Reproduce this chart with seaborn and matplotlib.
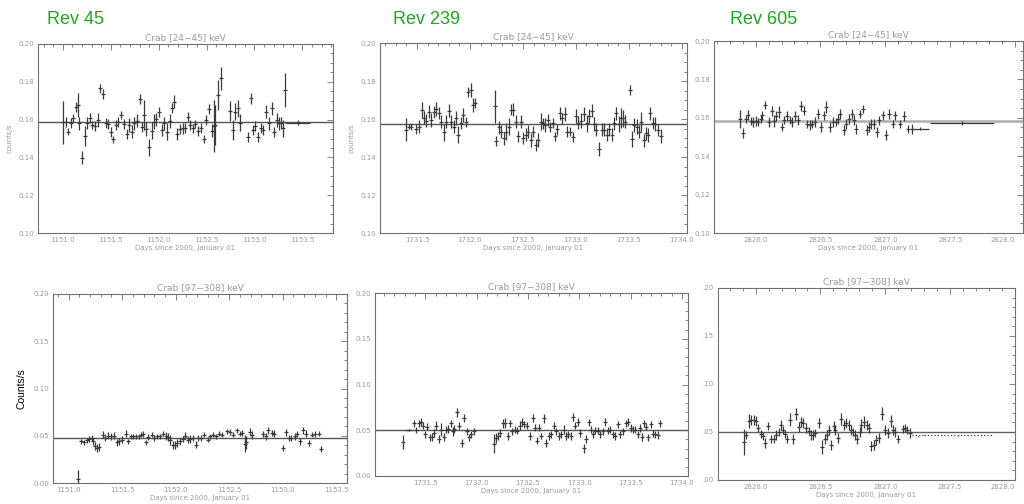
import matplotlib
matplotlib.use("Agg")
import matplotlib.pyplot as plt
from matplotlib.ticker import MultipleLocator, FormatStrFormatter, FuncFormatter
import seaborn as sns
import pandas as pd

# ---------------- data ----------------
rev_labels = ["Rev 45", "Rev 239", "Rev 605"]
title_soft = "Crab [24\u221245] keV"
title_hard = "Crab [97\u2212308] keV"
xlabel_text = "Days since 2000, January 01"

# Rev 45, 24-45 keV
t1 = [1151.003,1151.028,1151.056,1151.080,1151.108,1151.136,1151.153,1151.171,1151.202,1151.230,1151.255,1151.282,1151.307,1151.335,1151.363,1151.387,1151.422,1151.446,1151.474,1151.502,1151.527,1151.554,1151.579,1151.607,1151.638,1151.666,1151.690,1151.718,1151.746,1151.778,1151.802,1151.830,1151.851,1151.872,1151.900,1151.927,1151.952,1151.976,1152.008,1152.032,1152.060,1152.091,1152.116,1152.140,1152.165,1152.196,1152.224,1152.252,1152.276,1152.304,1152.328,1152.356,1152.381,1152.409,1152.440,1152.471,1152.496,1152.524,1152.552,1152.573,1152.593,1152.618,1152.646,1152.740,1152.771,1152.799,1152.824,1152.851,1152.932,1152.960,1152.984,1153.008,1153.036,1153.064,1153.092,1153.123,1153.151,1153.179,1153.204,1153.232,1153.256,1153.280,1153.294,1153.315]
y1 = [0.1586,0.1589,0.1536,0.1584,0.1607,0.1668,0.1677,0.1580,0.1399,0.1513,0.1580,0.1607,0.1571,0.1568,0.1598,0.1765,0.1735,0.1580,0.1577,0.1536,0.1496,0.1571,0.1589,0.1624,0.1575,0.1524,0.1571,0.1536,0.1580,0.1594,0.1707,0.1563,0.1624,0.1550,0.1453,0.1541,0.1589,0.1601,0.1642,0.1545,0.1580,0.1536,0.1593,0.1663,0.1695,0.1524,0.1550,0.1554,0.1557,0.1616,0.1571,0.1554,0.1575,0.1541,0.1557,0.1499,0.1598,0.1654,0.1541,0.1566,0.1571,0.1730,0.1818,0.1647,0.1545,0.1642,0.1660,0.1584,0.1510,0.1713,0.1545,0.1566,0.1510,0.1554,0.1545,0.1642,0.1580,0.1660,0.1536,0.1598,0.1580,0.1584,0.1554,0.1757]
e1 = [0.0115,0.0026,0.0018,0.0026,0.0021,0.0026,0.0062,0.0035,0.0035,0.0053,0.0032,0.0026,0.0021,0.0026,0.0035,0.0026,0.0028,0.0026,0.0026,0.0026,0.0018,0.0026,0.0026,0.0021,0.0026,0.0026,0.0035,0.0035,0.0035,0.0035,0.0026,0.0026,0.0079,0.0035,0.0044,0.0044,0.0039,0.0035,0.0026,0.0032,0.0035,0.0044,0.0035,0.0026,0.0035,0.0030,0.0026,0.0030,0.0026,0.0026,0.0026,0.0023,0.0021,0.0026,0.0026,0.0021,0.0026,0.0026,0.0035,0.0138,0.0106,0.0079,0.0062,0.0053,0.0053,0.0044,0.0044,0.0044,0.0026,0.0030,0.0026,0.0026,0.0026,0.0026,0.0026,0.0035,0.0035,0.0035,0.0026,0.0035,0.0035,0.0032,0.0044,0.0088]
w1_t, w1_y, w1_xe, w1_ye = [1153.45], [0.1584], [0.13], [0.0014]
mean1 = 0.1586

# Rev 239, 24-45 keV
t2 = [1731.399,1731.424,1731.446,1731.494,1731.516,1731.547,1731.566,1731.588,1731.610,1731.635,1731.658,1731.680,1731.705,1731.730,1731.752,1731.777,1731.799,1731.825,1731.847,1731.869,1731.891,1731.913,1731.938,1731.960,1731.985,1732.007,1732.029,1732.051,1732.234,1732.250,1732.272,1732.294,1732.319,1732.338,1732.366,1732.388,1732.407,1732.436,1732.458,1732.480,1732.505,1732.527,1732.549,1732.574,1732.596,1732.622,1732.644,1732.669,1732.691,1732.713,1732.735,1732.757,1732.782,1732.804,1732.826,1732.848,1732.871,1732.896,1732.921,1732.943,1732.974,1733.003,1733.025,1733.050,1733.075,1733.104,1733.126,1733.148,1733.173,1733.195,1733.220,1733.245,1733.267,1733.293,1733.315,1733.337,1733.359,1733.384,1733.406,1733.428,1733.450,1733.466,1733.507,1733.529,1733.554,1733.576,1733.598,1733.620,1733.642,1733.664,1733.683,1733.705,1733.727,1733.750,1733.775,1733.800]
y2 = [0.1543,0.1560,0.1560,0.1546,0.1560,0.1647,0.1607,0.1591,0.1638,0.1595,0.1638,0.1652,0.1630,0.1586,0.1529,0.1586,0.1644,0.1586,0.1560,0.1604,0.1517,0.1577,0.1621,0.1586,0.1743,0.1752,0.1673,0.1685,0.1668,0.1482,0.1557,0.1534,0.1499,0.1534,0.1560,0.1650,0.1650,0.1586,0.1508,0.1586,0.1499,0.1517,0.1534,0.1490,0.1534,0.1464,0.1490,0.1586,0.1577,0.1569,0.1595,0.1560,0.1577,0.1508,0.1546,0.1630,0.1604,0.1626,0.1534,0.1534,0.1504,0.1616,0.1581,0.1591,0.1626,0.1577,0.1616,0.1644,0.1574,0.1543,0.1442,0.1543,0.1543,0.1517,0.1546,0.1517,0.1577,0.1630,0.1574,0.1604,0.1604,0.1586,0.1752,0.1494,0.1569,0.1560,0.1534,0.1586,0.1487,0.1525,0.1517,0.1630,0.1577,0.1574,0.1543,0.1511]
e2 = [0.0061,0.0014,0.0017,0.0026,0.0035,0.0044,0.0035,0.0035,0.0035,0.0035,0.0031,0.0035,0.0031,0.0035,0.0044,0.0035,0.0035,0.0035,0.0035,0.0038,0.0044,0.0031,0.0038,0.0026,0.0026,0.0035,0.0035,0.0026,0.0087,0.0026,0.0035,0.0035,0.0035,0.0044,0.0044,0.0031,0.0035,0.0035,0.0030,0.0035,0.0030,0.0035,0.0035,0.0035,0.0031,0.0030,0.0035,0.0044,0.0030,0.0035,0.0030,0.0026,0.0026,0.0026,0.0030,0.0035,0.0030,0.0035,0.0031,0.0026,0.0026,0.0035,0.0035,0.0038,0.0035,0.0044,0.0035,0.0035,0.0035,0.0035,0.0035,0.0035,0.0035,0.0035,0.0035,0.0035,0.0035,0.0035,0.0044,0.0052,0.0044,0.0035,0.0026,0.0044,0.0035,0.0038,0.0035,0.0052,0.0035,0.0035,0.0038,0.0035,0.0031,0.0035,0.0031,0.0035]
mean2 = 0.1574

# Rev 605, 24-45 keV
t3 = [2825.884,2825.902,2825.923,2825.943,2825.964,2825.979,2826.000,2826.021,2826.039,2826.051,2826.075,2826.103,2826.124,2826.144,2826.160,2826.180,2826.201,2826.219,2826.242,2826.263,2826.283,2826.304,2826.324,2826.347,2826.371,2826.396,2826.417,2826.435,2826.456,2826.479,2826.505,2826.525,2826.546,2826.577,2826.597,2826.618,2826.636,2826.654,2826.680,2826.700,2826.718,2826.741,2826.759,2826.777,2826.808,2826.829,2826.855,2826.875,2826.893,2826.914,2826.932,2826.952,2826.978,2827.004,2827.030,2827.055,2827.076,2827.112,2827.143,2827.176,2827.207]
y3 = [0.1595,0.1521,0.1595,0.1617,0.1581,0.1577,0.1581,0.1577,0.1595,0.1612,0.1669,0.1577,0.1634,0.1581,0.1608,0.1629,0.1552,0.1590,0.1607,0.1590,0.1577,0.1607,0.1586,0.1664,0.1638,0.1569,0.1560,0.1569,0.1577,0.1620,0.1552,0.1612,0.1655,0.1552,0.1577,0.1577,0.1595,0.1620,0.1538,0.1569,0.1595,0.1620,0.1586,0.1543,0.1620,0.1646,0.1538,0.1552,0.1569,0.1569,0.1526,0.1586,0.1612,0.1509,0.1620,0.1569,0.1612,0.1569,0.1607,0.1543,0.1543]
e3 = [0.0048,0.0026,0.0021,0.0026,0.0021,0.0026,0.0026,0.0021,0.0021,0.0026,0.0021,0.0026,0.0026,0.0031,0.0026,0.0031,0.0021,0.0021,0.0026,0.0021,0.0026,0.0026,0.0026,0.0026,0.0026,0.0021,0.0026,0.0021,0.0026,0.0026,0.0026,0.0026,0.0031,0.0026,0.0026,0.0021,0.0026,0.0026,0.0026,0.0026,0.0026,0.0026,0.0026,0.0026,0.0021,0.0021,0.0026,0.0026,0.0026,0.0026,0.0026,0.0021,0.0026,0.0026,0.0026,0.0021,0.0026,0.0021,0.0026,0.0021,0.0026]
w3_t, w3_y, w3_xe, w3_ye = [2827.27, 2827.59], [0.1543, 0.1574], [0.067, 0.25], [0.0009, 0.0009]
mean3 = 0.1581

# Rev 45, 97-308 keV
t4 = [1151.092,1151.114,1151.145,1151.170,1151.195,1151.217,1151.232,1151.251,1151.269,1151.288,1151.319,1151.341,1151.372,1151.397,1151.425,1151.450,1151.475,1151.500,1151.534,1151.559,1151.584,1151.606,1151.631,1151.656,1151.681,1151.699,1151.724,1151.746,1151.777,1151.799,1151.824,1151.855,1151.886,1151.908,1151.927,1151.949,1151.974,1151.995,1152.017,1152.042,1152.067,1152.089,1152.111,1152.136,1152.160,1152.188,1152.213,1152.235,1152.269,1152.300,1152.322,1152.347,1152.379,1152.403,1152.431,1152.478,1152.509,1152.540,1152.572,1152.597,1152.621,1152.643,1152.659,1152.690,1152.715,1152.815,1152.840,1152.867,1152.899,1152.921,1153.002,1153.030,1153.055,1153.080,1153.111,1153.132,1153.164,1153.188,1153.213,1153.241,1153.273,1153.304,1153.335,1153.360]
y4 = [0.0040,0.0441,0.0430,0.0451,0.0465,0.0476,0.0441,0.0388,0.0370,0.0381,0.0511,0.0476,0.0501,0.0494,0.0501,0.0430,0.0441,0.0458,0.0522,0.0441,0.0494,0.0494,0.0494,0.0494,0.0511,0.0518,0.0430,0.0487,0.0511,0.0476,0.0494,0.0494,0.0522,0.0494,0.0487,0.0458,0.0405,0.0398,0.0423,0.0441,0.0465,0.0501,0.0458,0.0465,0.0476,0.0405,0.0476,0.0476,0.0511,0.0458,0.0494,0.0511,0.0494,0.0522,0.0511,0.0546,0.0539,0.0511,0.0557,0.0522,0.0529,0.0416,0.0430,0.0536,0.0511,0.0518,0.0494,0.0557,0.0529,0.0522,0.0370,0.0536,0.0476,0.0476,0.0494,0.0518,0.0441,0.0557,0.0522,0.0423,0.0511,0.0518,0.0522,0.0359]
e4 = [0.0100,0.0028,0.0028,0.0028,0.0028,0.0028,0.0035,0.0042,0.0042,0.0042,0.0035,0.0035,0.0035,0.0035,0.0035,0.0035,0.0035,0.0035,0.0035,0.0028,0.0028,0.0028,0.0028,0.0028,0.0028,0.0028,0.0028,0.0028,0.0028,0.0028,0.0028,0.0028,0.0028,0.0042,0.0042,0.0053,0.0042,0.0042,0.0042,0.0035,0.0035,0.0035,0.0035,0.0042,0.0035,0.0035,0.0035,0.0035,0.0028,0.0028,0.0028,0.0028,0.0028,0.0028,0.0028,0.0028,0.0028,0.0028,0.0028,0.0028,0.0028,0.0088,0.0071,0.0042,0.0042,0.0035,0.0035,0.0035,0.0035,0.0035,0.0035,0.0035,0.0035,0.0035,0.0035,0.0035,0.0035,0.0035,0.0035,0.0035,0.0028,0.0028,0.0028,0.0035]
mean4 = 0.0478

# Rev 239, 97-308 keV
t5 = [1731.282,1731.393,1731.412,1731.435,1731.458,1731.477,1731.500,1731.516,1731.542,1731.565,1731.581,1731.604,1731.636,1731.656,1731.679,1731.698,1731.721,1731.747,1731.769,1731.782,1731.805,1731.831,1731.854,1731.877,1731.903,1731.925,1731.945,1731.971,1732.166,1732.185,1732.208,1732.231,1732.253,1732.276,1732.302,1732.325,1732.347,1732.370,1732.393,1732.419,1732.442,1732.464,1732.487,1732.519,1732.545,1732.565,1732.588,1732.610,1732.630,1732.656,1732.679,1732.705,1732.724,1732.753,1732.776,1732.799,1732.821,1732.847,1732.867,1732.890,1732.916,1732.938,1732.961,1732.984,1733.010,1733.042,1733.065,1733.091,1733.114,1733.133,1733.156,1733.179,1733.205,1733.227,1733.253,1733.276,1733.302,1733.325,1733.347,1733.377,1733.399,1733.425,1733.451,1733.477,1733.503,1733.523,1733.545,1733.568,1733.594,1733.610,1733.633,1733.653,1733.675,1733.695,1733.718,1733.740,1733.763,1733.792]
y5 = [0.0370,0.0574,0.0506,0.0574,0.0592,0.0551,0.0455,0.0540,0.0421,0.0428,0.0472,0.0551,0.0404,0.0506,0.0428,0.0506,0.0516,0.0574,0.0489,0.0516,0.0694,0.0551,0.0360,0.0632,0.0489,0.0421,0.0455,0.0489,0.0353,0.0415,0.0438,0.0472,0.0574,0.0581,0.0438,0.0574,0.0489,0.0506,0.0497,0.0551,0.0592,0.0564,0.0551,0.0438,0.0632,0.0530,0.0387,0.0530,0.0438,0.0632,0.0360,0.0438,0.0455,0.0551,0.0489,0.0438,0.0455,0.0506,0.0438,0.0455,0.0438,0.0643,0.0551,0.0592,0.0472,0.0302,0.0404,0.0585,0.0506,0.0455,0.0497,0.0497,0.0455,0.0489,0.0592,0.0497,0.0506,0.0455,0.0438,0.0564,0.0455,0.0489,0.0574,0.0592,0.0523,0.0506,0.0506,0.0455,0.0523,0.0428,0.0574,0.0540,0.0421,0.0564,0.0462,0.0455,0.0449,0.0574]
e5 = [0.0075,0.0034,0.0034,0.0041,0.0041,0.0041,0.0041,0.0041,0.0041,0.0041,0.0041,0.0051,0.0041,0.0068,0.0041,0.0041,0.0041,0.0041,0.0051,0.0041,0.0051,0.0041,0.0041,0.0041,0.0041,0.0041,0.0041,0.0041,0.0102,0.0051,0.0041,0.0041,0.0051,0.0051,0.0041,0.0041,0.0041,0.0041,0.0041,0.0051,0.0041,0.0041,0.0041,0.0041,0.0041,0.0041,0.0041,0.0041,0.0034,0.0051,0.0041,0.0041,0.0041,0.0041,0.0041,0.0041,0.0041,0.0051,0.0041,0.0041,0.0041,0.0041,0.0041,0.0041,0.0041,0.0051,0.0041,0.0041,0.0041,0.0041,0.0041,0.0041,0.0041,0.0041,0.0041,0.0041,0.0041,0.0041,0.0041,0.0041,0.0041,0.0041,0.0041,0.0041,0.0041,0.0041,0.0041,0.0041,0.0041,0.0041,0.0041,0.0041,0.0041,0.0041,0.0041,0.0041,0.0041,0.0041]
w5_t, w5_y, w5_xe, w5_ye = [1731.338], [0.0500], [0.032], [0.0010]
mean5 = 0.0498

# Rev 605, 97-308 keV
t6 = [2825.910,2825.923,2825.946,2825.967,2825.985,2826.000,2826.021,2826.039,2826.057,2826.072,2826.095,2826.121,2826.142,2826.160,2826.178,2826.193,2826.211,2826.229,2826.245,2826.265,2826.288,2826.311,2826.332,2826.347,2826.368,2826.391,2826.409,2826.425,2826.443,2826.461,2826.486,2826.512,2826.533,2826.553,2826.564,2826.584,2826.602,2826.615,2826.636,2826.656,2826.680,2826.700,2826.718,2826.734,2826.752,2826.770,2826.785,2826.803,2826.816,2826.837,2826.855,2826.873,2826.893,2826.914,2826.932,2826.950,2826.973,2827.001,2827.022,2827.042,2827.060,2827.078,2827.099,2827.138,2827.153,2827.171,2827.194]
y6 = [0.0396,0.0472,0.0614,0.0627,0.0621,0.0614,0.0541,0.0482,0.0455,0.0389,0.0562,0.0431,0.0431,0.0465,0.0500,0.0576,0.0517,0.0482,0.0431,0.0627,0.0431,0.0690,0.0551,0.0603,0.0596,0.0541,0.0507,0.0465,0.0465,0.0493,0.0596,0.0344,0.0431,0.0465,0.0517,0.0361,0.0562,0.0517,0.0437,0.0631,0.0569,0.0596,0.0569,0.0517,0.0500,0.0465,0.0431,0.0500,0.0576,0.0603,0.0576,0.0541,0.0355,0.0369,0.0413,0.0437,0.0690,0.0517,0.0493,0.0614,0.0517,0.0500,0.0431,0.0534,0.0541,0.0517,0.0493]
e6 = [0.0138,0.0041,0.0076,0.0052,0.0052,0.0052,0.0041,0.0041,0.0041,0.0052,0.0041,0.0041,0.0041,0.0052,0.0041,0.0052,0.0041,0.0041,0.0041,0.0069,0.0052,0.0062,0.0052,0.0052,0.0052,0.0052,0.0041,0.0052,0.0052,0.0041,0.0052,0.0069,0.0052,0.0052,0.0052,0.0052,0.0052,0.0052,0.0052,0.0062,0.0052,0.0052,0.0052,0.0052,0.0041,0.0052,0.0052,0.0052,0.0062,0.0062,0.0052,0.0052,0.0052,0.0052,0.0052,0.0052,0.0069,0.0052,0.0052,0.0062,0.0052,0.0052,0.0041,0.0041,0.0041,0.0041,0.0052]
w6_t, w6_y, w6_xe, w6_ye = [2827.254, 2827.562], [0.0465, 0.0465], [0.05, 0.26], [0.0017, 0.0010]
mean6 = 0.0497

# ---------------- style ----------------
sns.set_theme(style="white")
plt.rcParams["font.family"] = ["DejaVu Sans"]

SPINE = "#707070"
LABEL = "#9a9a9a"
INK = "#3a3a3a"

fig = plt.figure(figsize=(10.24, 5.04), dpi=100)

def px_axes(x0, y0, x1, y1):
    W, H = 1024.0, 504.0
    return fig.add_axes([x0 / W, 1 - y1 / H, (x1 - x0) / W, (y1 - y0) / H])

def draw_panel(ax, t, y, e, mean, xlim, ylim, ymaj, ymin_, title,
               wide=None, mean_color="#555555", mean_lw=1.0, wide_ls="-",
               yfmt="%.2f"):
    df = pd.DataFrame({"t": t, "y": y, "e": e})
    ax.errorbar(df["t"], df["y"], yerr=df["e"], fmt="none",
                ecolor=INK, elinewidth=0.9, capsize=0, zorder=3)
    sns.scatterplot(data=df, x="t", y="y", marker="_", s=9, color=INK,
                    linewidth=0.9, ax=ax, zorder=4, legend=False)
    if wide is not None:
        wt, wy, wxe, wye = wide
        _, _, bars = ax.errorbar(wt, wy, xerr=wxe, yerr=wye, fmt="none",
                                 ecolor=INK, elinewidth=0.9, capsize=0, zorder=3)
        for b in bars:
            b.set_linestyle(wide_ls)
    ax.axhline(mean, color=mean_color, lw=mean_lw, zorder=2)
    ax.set_xlim(*xlim)
    ax.set_ylim(*ylim)
    ax.xaxis.set_major_locator(MultipleLocator(0.5))
    ax.xaxis.set_minor_locator(MultipleLocator(0.1))
    ax.yaxis.set_major_locator(MultipleLocator(ymaj))
    ax.yaxis.set_minor_locator(MultipleLocator(ymin_))
    ax.xaxis.set_major_formatter(FormatStrFormatter("%.1f"))
    if callable(yfmt):
        ax.yaxis.set_major_formatter(FuncFormatter(yfmt))
    else:
        ax.yaxis.set_major_formatter(FormatStrFormatter(yfmt))
    ax.tick_params(which="both", direction="in", top=True, right=True,
                   color=SPINE, width=0.6, labelcolor=LABEL, labelsize=5, pad=3)
    ax.tick_params(which="major", length=4.5)
    ax.tick_params(which="minor", length=2.2)
    for s in ax.spines.values():
        s.set_color(SPINE)
        s.set_linewidth(0.8)
    ax.set_title(title, fontsize=6.5, color=LABEL, pad=2.5)
    ax.set_xlabel(xlabel_text, fontsize=5, color=LABEL, labelpad=1.5)
    ax.set_ylabel("")
    ax.set_facecolor("white")

# top row
ax1 = px_axes(38, 44, 333, 233)
draw_panel(ax1, t1, y1, e1, mean1, (1150.74, 1153.82), (0.10, 0.20), 0.02, 0.005,
           title_soft, wide=(w1_t, w1_y, w1_xe, w1_ye))
ax1.set_ylabel("counts/s", fontsize=5, color=LABEL, labelpad=4)

ax2 = px_axes(380, 43, 687, 233)
draw_panel(ax2, t2, y2, e2, mean2, (1731.15, 1734.05), (0.10, 0.20), 0.02, 0.005,
           title_soft)
ax2.set_ylabel("counts/s", fontsize=5, color=LABEL, labelpad=4)

ax3 = px_axes(714, 41, 1023, 233)
draw_panel(ax3, t3, y3, e3, mean3, (2825.68, 2828.06), (0.10, 0.20), 0.02, 0.005,
           title_soft, wide=(w3_t, w3_y, w3_xe, w3_ye),
           mean_color="#b0b0b0", mean_lw=1.8)

# bottom row
ax4 = px_axes(53, 294, 347, 483)
draw_panel(ax4, t4, y4, e4, mean4, (1150.855, 1153.60), (0.0, 0.20), 0.05, 0.01,
           title_hard)
ax4.set_ylabel("Counts/s", fontsize=7.5, color="black", family="Liberation Sans",
               labelpad=5)

ax5 = px_axes(375, 293, 688, 476)
draw_panel(ax5, t5, y5, e5, mean5, (1731.01, 1734.06), (0.0, 0.20), 0.05, 0.01,
           title_hard, wide=(w5_t, w5_y, w5_xe, w5_ye))

ax6 = px_axes(718, 288, 1015, 480)
draw_panel(ax6, t6, y6, e6, mean6, (2825.71, 2828.0), (0.0, 0.20), 0.05, 0.01,
           title_hard, wide=(w6_t, w6_y, w6_xe, w6_ye), wide_ls=":",
           mean_color="#606060", mean_lw=1.0,
           yfmt=lambda v, p: ("%.2f" % v)[1:])

# keep the right-most date label (2828.0) inside the figure
fig.canvas.draw()
for a in (ax3, ax6):
    for tk in a.xaxis.get_major_ticks():
        if abs(tk.get_loc() - 2828.0) < 1e-6:
            tk.label1.set_horizontalalignment("right")

# green revolution labels
for lbl, xp in zip(rev_labels, [47, 393, 730]):
    fig.text(xp / 1024.0, 1 - 20 / 504.0, lbl, fontsize=13, color="#1ea81e",
             family="Liberation Sans", ha="left", va="center")

fig.savefig("out.png", dpi=100, facecolor="white")
